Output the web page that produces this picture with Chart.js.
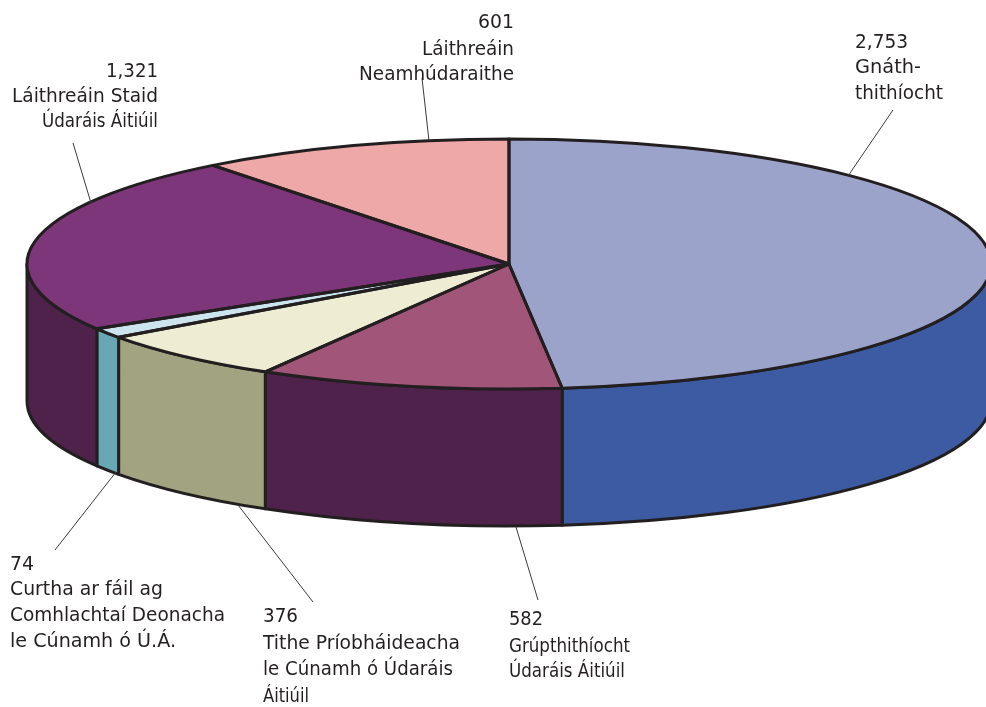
<!DOCTYPE html>
<html>
<head>
<meta charset="utf-8">
<title>Pie</title>
<script src="https://cdn.jsdelivr.net/npm/chart.js@4"></script>
<style>
  html, body { margin: 0; padding: 0; background: #fff; overflow: hidden; }
  canvas { display: block; }
</style>
</head>
<body>
<canvas id="myChart" width="986" height="707"></canvas>
<script>
// slices, clockwise from the top of the pie
const categories = [
    'Gnáththithíocht',
    'Grúpthithíocht Údaráis Áitiúil',
    'Tithe Príobháideacha le Cúnamh ó Údaráis Áitiúil',
    'Curtha ar fáil ag Comhlachtaí Deonacha le Cúnamh ó Ú.Á.',
    'Láithreáin Staid Údaráis Áitiúil',
    'Láithreáin Neamhúdaraithe'
];
const values = [2753, 582, 376, 74, 1321, 601];
const topColors = ['#9ba3cb', '#a05579', '#eeedd4', '#cce4ee', '#7d3679', '#eea8a8'];
const sideColors = ['#3d5ba3', '#4f224c', '#a2a380', '#68a8b5', '#4f224c', '#b07a7a'];

// label text, one list of lines per slice (the number goes on top)
const labelLines = [
    ['Gnáth-', 'thithíocht'],
    ['Grúpthithíocht', 'Údaráis Áitiúil'],
    ['Tithe Príobháideacha', 'le Cúnamh ó Údaráis', 'Áitiúil'],
    ['Curtha ar fáil ag', 'Comhlachtaí Deonacha', 'le Cúnamh ó Ú.Á.'],
    ['Láithreáin Staid', 'Údaráis Áitiúil'],
    ['Láithreáin', 'Neamhúdaraithe']
];

// where the labels sit on the page
const labelX = [855, 509, 263, 10, 158, 514];
const labelAlign = ['left', 'left', 'left', 'left', 'right', 'right'];
const labelBaselines = [
    [48, 73, 99],
    [625, 652, 677],
    [622, 649, 675, 702],
    [570, 595, 621, 647],
    [77, 102, 127],
    [28, 55, 80]
];
const labelWidths = [
    [53, 66, 88],
    [34, 121, 116],
    [35, 197, 190, 46],
    [24, 153, 215, 166],
    [52, 146, 116],
    [36, 92, 155]
];
// leader lines: x1, y1, x2, y2
const leaderLines = [
    [893, 110, 848, 176],
    [516, 527, 538, 600],
    [238, 505, 313, 602],
    [116, 472, 55, 550],
    [73, 143, 91, 203],
    [422, 78, 429, 141]
];

const PIE_X = 509, PIE_Y = 264, PIE_RX = 482, PIE_RY = 125, PIE_DEPTH = 137;
const INK = '#231f20';

// builds one slice's top outline in page coordinates
function topPath(ctx, arc) {
    ctx.beginPath();
    ctx.moveTo(PIE_X, PIE_Y);
    ctx.ellipse(PIE_X, PIE_Y, PIE_RX, PIE_RY, 0, arc.startAngle, arc.endAngle);
    ctx.closePath();
}

const pie3d = {
    id: 'pie3d',
    beforeDatasetsDraw(chart) {
        const ctx = chart.ctx;
        const arcs = chart.getDatasetMeta(0).data;
        // outer wall of every slice that faces the viewer
        arcs.forEach((arc, i) => {
            const a = Math.max(arc.startAngle, 0);
            const b = Math.min(arc.endAngle, Math.PI);
            if (b <= a) return;
            ctx.beginPath();
            ctx.ellipse(PIE_X, PIE_Y, PIE_RX, PIE_RY, 0, a, b);
            ctx.ellipse(PIE_X, PIE_Y + PIE_DEPTH, PIE_RX, PIE_RY, 0, b, a, true);
            ctx.closePath();
            ctx.fillStyle = sideColors[i];
            ctx.fill();
            ctx.lineWidth = 3;
            ctx.strokeStyle = INK;
            ctx.lineJoin = 'round';
            ctx.stroke();
        });
        // squash the round pie into the tilted ellipse
        const first = arcs[0];
        ctx.save();
        ctx.translate(PIE_X, PIE_Y);
        ctx.scale(PIE_RX / first.outerRadius, PIE_RY / first.outerRadius);
        ctx.translate(-first.x, -first.y);
    },
    afterDatasetsDraw(chart) {
        const ctx = chart.ctx;
        ctx.restore();
        // outlines are stroked here so the squash does not thin them
        chart.getDatasetMeta(0).data.forEach(arc => {
            topPath(ctx, arc);
            ctx.lineWidth = 3;
            ctx.strokeStyle = INK;
            ctx.lineJoin = 'round';
            ctx.stroke();
        });
        // leader lines
        ctx.lineWidth = 1;
        ctx.strokeStyle = '#3a3a3a';
        leaderLines.forEach(l => {
            ctx.beginPath();
            ctx.moveTo(l[0], l[1]);
            ctx.lineTo(l[2], l[3]);
            ctx.stroke();
        });
        // labels, squeezed to the widths in the original
        ctx.fillStyle = INK;
        ctx.font = '20px "DejaVu Sans"';
        values.forEach((value, i) => {
            const lines = [value.toLocaleString('en-US')].concat(labelLines[i]);
            ctx.textAlign = labelAlign[i];
            lines.forEach((line, j) => {
                ctx.fillText(line, labelX[i], labelBaselines[i][j], labelWidths[i][j]);
            });
        });
    }
};

new Chart(document.getElementById('myChart'), {
    type: 'pie',
    data: {
        labels: categories,
        datasets: [{
            data: values,
            backgroundColor: topColors,
            borderWidth: 0,
            clip: false
        }]
    },
    options: {
        responsive: false,
        animation: false,
        events: [],
        plugins: {
            legend: { display: false },
            tooltip: { enabled: false }
        }
    },
    plugins: [pie3d]
});
</script>
</body>
</html>
